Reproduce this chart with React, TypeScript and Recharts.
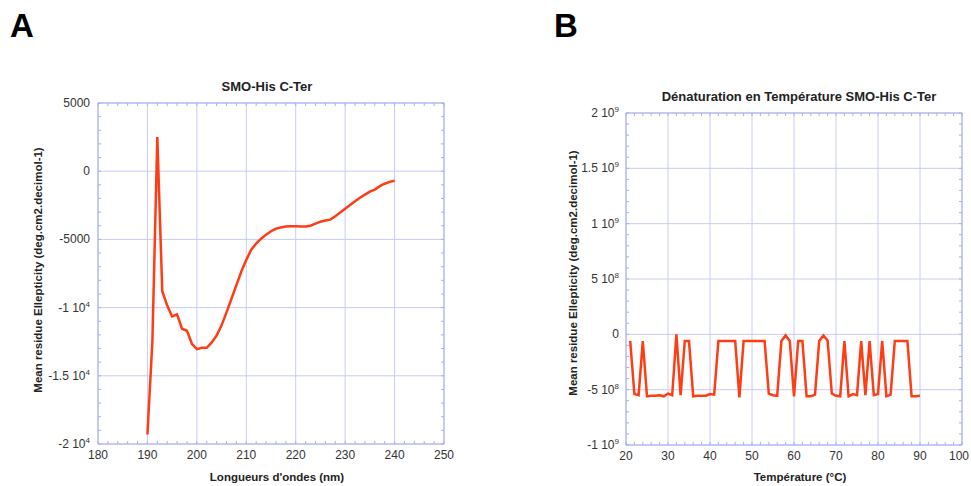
import React from 'react';
import { CartesianGrid, Line, LineChart, ReferenceLine, XAxis, YAxis } from 'recharts';

// Panel A: CD spectrum
const wavelengths = [
  190, 191, 192, 193, 194, 195, 196, 197, 198, 199, 200, 201, 202, 203, 204, 205, 206,
  207, 208, 209, 210, 211, 212, 213, 214, 215, 216, 217, 218, 219, 220, 221, 222, 223,
  224, 225, 226, 227, 228, 229, 230, 231, 232, 233, 234, 235, 236, 237, 238, 239, 240,
];
const ellipticityA = [
  -19300, -12500, 2500, -8800, -9850, -10650, -10500, -11550, -11700, -12650, -13050,
  -12950, -12950, -12550, -12050, -11300, -10350, -9350, -8350, -7350, -6500, -5760,
  -5300, -4950, -4650, -4400, -4220, -4120, -4060, -4040, -4040, -4050, -4050, -4000,
  -3850, -3700, -3620, -3550, -3300, -3030, -2760, -2480, -2200, -1950, -1720, -1500,
  -1350, -1100, -920, -780, -700,
];
const ticksAX = [180, 190, 200, 210, 220, 230, 240, 250];
const ticksAY = [-20000, -15000, -10000, -5000, 0, 5000];

// Panel B: thermal denaturation
const temperatures = [
  21, 22, 23, 24, 25, 26, 27, 28, 29, 30, 31, 32, 33, 34, 35, 36, 37, 38, 39, 40, 41, 42,
  43, 44, 45, 46, 47, 48, 49, 50, 51, 52, 53, 54, 55, 56, 57, 58, 59, 60, 61, 62, 63, 64,
  65, 66, 67, 68, 69, 70, 71, 72, 73, 74, 75, 76, 77, 78, 79, 80, 81, 82, 83, 84, 85, 86,
  87, 88, 89, 90,
];
const ellipticityB = [
  -0.6e8, -5.4e8, -5.5e8, -0.6e8, -5.6e8, -5.55e8, -5.55e8, -5.5e8, -5.6e8, -5.35e8,
  -5.5e8, 0, -5.5e8, -0.6e8, -0.6e8, -5.6e8, -5.55e8, -5.55e8, -5.55e8, -5.4e8, -5.45e8,
  -0.6e8, -0.6e8, -0.6e8, -0.6e8, -0.6e8, -5.7e8, -0.6e8, -0.6e8, -0.6e8, -0.6e8, -0.6e8,
  -0.6e8, -5.35e8, -5.5e8, -5.55e8, -0.6e8, -0.1e8, -0.6e8, -5.6e8, -0.6e8, -0.6e8,
  -5.6e8, -5.6e8, -5.45e8, -0.6e8, -0.1e8, -0.55e8, -5.35e8, -5.55e8, -5.6e8, -0.6e8,
  -5.6e8, -5.4e8, -5.5e8, -0.6e8, -5.5e8, -0.6e8, -5.5e8, -5.4e8, -0.6e8, -5.6e8,
  -5.45e8, -0.6e8, -0.6e8, -0.6e8, -0.6e8, -5.6e8, -5.6e8, -5.55e8,
];
const ticksBX = [20, 30, 40, 50, 60, 70, 80, 90, 100];
const ticksBY = [-1e9, -5e8, 0, 5e8, 1e9, 1.5e9, 2e9];

const dataA = wavelengths.map((w, i) => ({ x: w, y: ellipticityA[i] }));
const dataB = temperatures.map((t, i) => ({ x: t, y: ellipticityB[i] }));

const range = (a: number, b: number, step: number) => {
  const out: number[] = [];
  for (let v = a; v <= b + step / 1000; v += step) out.push(+v.toFixed(6));
  return out;
};

const GRID = '#c8ccf5';
const BORDER = '#aab0ef';
const LINE = '#ff3c14';
const FONT = '"Liberation Sans", Arial, sans-serif';
const HEIGHT = 486;
const MINOR_LEN = 3;

// KaleidaGraph-like labels: "-1.5 10^4"
const sciParts = (v: number) => {
  if (Math.abs(v) < 10000) return { base: String(v), exp: '' };
  const exp = Math.floor(Math.log10(Math.abs(v)));
  const mant = +(v / Math.pow(10, exp)).toFixed(2);
  return { base: `${mant} 10`, exp: String(exp) };
};

const YTick = ({ x, y, payload }: any) => {
  const { base, exp } = sciParts(payload.value);
  return (
    <text x={x} y={y} dy={4} textAnchor="end" fontSize={12} fill="#333" fontFamily={FONT}>
      {base}
      {exp && (
        <tspan fontSize={8} dy={-5}>
          {exp}
        </tspan>
      )}
    </text>
  );
};

const XTick = ({ x, y, payload }: any) => (
  <text x={x} y={y} dy={9} textAnchor="middle" fontSize={12} fill="#333" fontFamily={FONT}>
    {payload.value}
  </text>
);

interface PanelProps {
  data: { x: number; y: number }[];
  width: number;
  margin: { top: number; right: number; bottom: number; left: number };
  xDomain: [number, number];
  yDomain: [number, number];
  xTicks: number[];
  yTicks: number[];
  xMinor: number[];
  yMinor: number[];
  tickGap: number;
}

const Panel = ({ data, width, margin, xDomain, yDomain, xTicks, yTicks, xMinor, yMinor, tickGap }: PanelProps) => {
  // plot size, to turn the 3px minor tick length into data units
  const plotW = width - margin.left - margin.right - 60;
  const plotH = HEIGHT - margin.top - margin.bottom - 30;
  const dy = ((yDomain[1] - yDomain[0]) / plotH) * MINOR_LEN;
  const dx = ((xDomain[1] - xDomain[0]) / plotW) * MINOR_LEN;
  const [x0, x1] = xDomain;
  const [y0, y1] = yDomain;

  return (
    <LineChart width={width} height={HEIGHT} data={data} margin={margin}>
      <CartesianGrid stroke={GRID} strokeWidth={1} />
      <XAxis
        dataKey="x"
        type="number"
        domain={xDomain}
        ticks={xTicks}
        height={30}
        axisLine={{ stroke: BORDER }}
        tickLine={false}
        tickSize={0}
        tickMargin={6}
        tick={<XTick />}
      />
      <YAxis
        type="number"
        domain={yDomain}
        ticks={yTicks}
        width={60}
        axisLine={{ stroke: BORDER }}
        tickLine={false}
        tickSize={0}
        tickMargin={tickGap}
        tick={<YTick />}
      />
      {xMinor.map((v) => (
        <ReferenceLine key={`xb${v}`} segment={[{ x: v, y: y0 }, { x: v, y: y0 + dy }]} stroke={BORDER} />
      ))}
      {xMinor.map((v) => (
        <ReferenceLine key={`xt${v}`} segment={[{ x: v, y: y1 }, { x: v, y: y1 - dy }]} stroke={BORDER} />
      ))}
      {yMinor.map((v) => (
        <ReferenceLine key={`yl${v}`} segment={[{ x: x0, y: v }, { x: x0 + dx, y: v }]} stroke={BORDER} />
      ))}
      {yMinor.map((v) => (
        <ReferenceLine key={`yr${v}`} segment={[{ x: x1, y: v }, { x: x1 - dx, y: v }]} stroke={BORDER} />
      ))}
      <ReferenceLine y={y1} stroke={BORDER} />
      <ReferenceLine x={x1} stroke={BORDER} />
      <Line
        dataKey="y"
        type="linear"
        stroke={LINE}
        strokeWidth={2.5}
        dot={false}
        isAnimationActive={false}
      />
    </LineChart>
  );
};

export default function App() {
  const labelStyle = { fontFamily: FONT, fontWeight: 700, fill: '#222' } as const;
  return (
    <div style={{ position: 'absolute', left: 0, top: 0, width: 971, height: 486, background: '#fff' }}>
      <div style={{ position: 'absolute', left: 0, top: 0 }}>
        <Panel
          data={dataA}
          width={480}
          margin={{ top: 103, right: 36, bottom: 12, left: 38 }}
          xDomain={[180, 250]}
          yDomain={[-20000, 5000]}
          xTicks={ticksAX}
          yTicks={ticksAY}
          xMinor={range(180, 250, 2)}
          yMinor={range(-20000, 5000, 1000)}
          tickGap={8}
        />
      </div>
      <div style={{ position: 'absolute', left: 480, top: 0 }}>
        <Panel
          data={dataB}
          width={491}
          margin={{ top: 113, right: 9, bottom: 11, left: 86 }}
          xDomain={[20, 100]}
          yDomain={[-1e9, 2e9]}
          xTicks={ticksBX}
          yTicks={ticksBY}
          xMinor={range(20, 100, 2)}
          yMinor={range(-1e9, 2e9, 1e8)}
          tickGap={7}
        />
      </div>
      <svg
        width={971}
        height={486}
        style={{ position: 'absolute', left: 0, top: 0, pointerEvents: 'none' }}
      >
        <text x={10} y={37} fontSize={33} {...labelStyle} fill="#000">A</text>
        <text x={554} y={37} fontSize={33} {...labelStyle} fill="#000">B</text>
        <text x={267} y={91} fontSize={13} textAnchor="middle" {...labelStyle}>
          SMO-His C-Ter
        </text>
        <text x={799} y={101} fontSize={13} textAnchor="middle" {...labelStyle}>
          Dénaturation en Température SMO-His C-Ter
        </text>
        <text x={277} y={481} fontSize={11.5} textAnchor="middle" {...labelStyle}>
          Longueurs d'ondes (nm)
        </text>
        <text x={800} y={481} fontSize={11.5} textAnchor="middle" {...labelStyle}>
          Température (°C)
        </text>
        <text transform="translate(42,270) rotate(-90)" fontSize={11.5} textAnchor="middle" {...labelStyle}>
          Mean residue Ellepticity (deg.cm2.decimol-1)
        </text>
        <text transform="translate(577,273) rotate(-90)" fontSize={11.5} textAnchor="middle" {...labelStyle}>
          Mean residue Ellepticity (deg.cm2.decimol-1)
        </text>
      </svg>
    </div>
  );
}
